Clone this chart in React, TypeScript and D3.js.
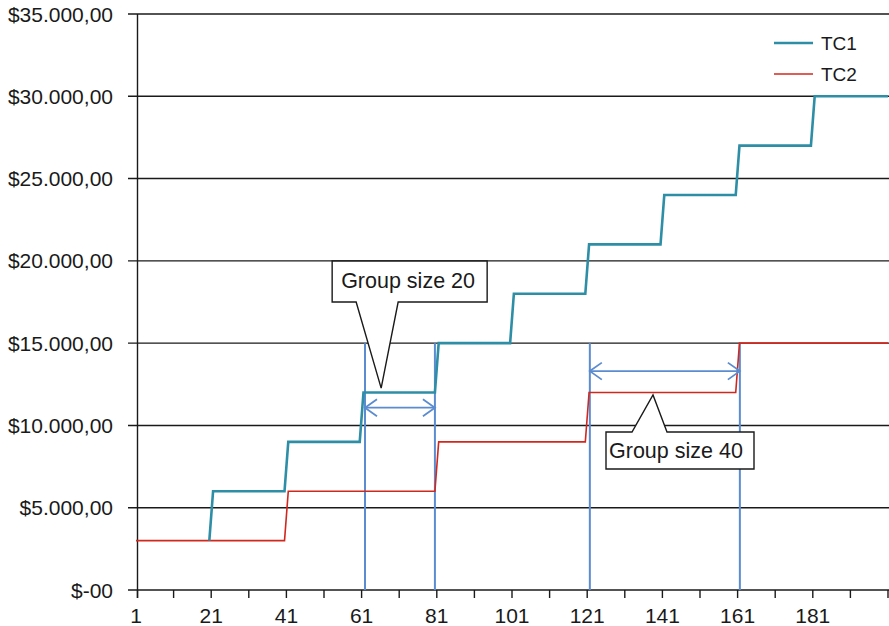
import React from "react";
import * as d3 from "d3";

const W = 889;
const H = 626;

const yTicks = [0, 5000, 10000, 15000, 20000, 25000, 30000, 35000];
const yTickLabels = ["$-00", "$5.000,00", "$10.000,00", "$15.000,00", "$20.000,00", "$25.000,00", "$30.000,00", "$35.000,00"];
const xMinorTicks = d3.range(1, 202, 10);
const xLabelTicks = [1, 21, 41, 61, 81, 101, 121, 141, 161, 181];

// step series: level changes at the given x positions
const tc1Breaks = [21, 41, 61, 81, 101, 121, 141, 161, 181];
const tc1Levels = [3000, 6000, 9000, 12000, 15000, 18000, 21000, 24000, 27000, 30000];
const tc2Breaks = [41, 81, 121, 161];
const tc2Levels = [3000, 6000, 9000, 12000, 15000];

const guideLines = [61.9, 80.5, 121.7, 161.6];
const guideTop = 15000;
const arrows = [
  { x0: 61.9, x1: 80.5, y: 11077 },
  { x0: 121.7, x1: 161.6, y: 13300 },
];
const callouts = [
  { text: "Group size 20", x: 66.2, y: 12270, box: [-49, 106, -127, -86], base: [-25, 17], tx: -40, ty: -100 },
  { text: "Group size 40", x: 138.5, y: 11850, box: [-47, 101, 37, 74], base: [-21, 14], tx: -44, ty: 63 },
];

const FONT = "'Liberation Sans', Arial, Helvetica, sans-serif";

function stepPoints(breaks: number[], levels: number[], startAtFirstBreak: boolean): [number, number][] {
  const pts: [number, number][] = startAtFirstBreak ? [] : [[1, levels[0]]];
  breaks.forEach((b, i) => {
    pts.push([b - 0.5, levels[i]]);
    pts.push([b + 0.5, levels[i + 1]]);
  });
  pts.push([201, levels[levels.length - 1]]);
  return pts;
}

export default function App() {
  const x = d3.scaleLinear().domain([1, 201]).range([136, 888]);
  const y = d3.scaleLinear().domain([0, 35000]).range([590, 14]);
  const line = d3.line<[number, number]>().x((d) => x(d[0])).y((d) => y(d[1]));
  const x0 = x(1) + 1.5;

  const arrowHead = (tx: number, ty: number, dir: number) =>
    `M${tx + dir * 12},${ty - 8.5}L${tx},${ty}L${tx + dir * 12},${ty + 8.5}`;

  return (
    <svg width={W} height={H} style={{ position: "absolute", left: 0, top: 0, background: "#fff" }} fontFamily={FONT}>
      <rect width={W} height={H} fill="#fff" />
      {/* gridlines */}
      {yTicks.map((t, i) => (
        <g key={t}>
          <line x1={x0 - 9.5} x2={W} y1={y(t)} y2={y(t)} stroke="#1a1a1a" strokeWidth={1.4} />
          <text x={113} y={y(t) + 7.5} textAnchor="end" fontSize={21} fill="#1a1a1a">
            {yTickLabels[i]}
          </text>
        </g>
      ))}
      {/* y axis */}
      <line x1={x0} x2={x0} y1={y(35000)} y2={y(0) + 8} stroke="#1a1a1a" strokeWidth={1.4} />
      {/* x ticks */}
      {xMinorTicks.map((t) => (
        <line key={t} x1={t === 1 ? x0 : x(t)} x2={t === 1 ? x0 : x(t)} y1={y(0)} y2={y(0) + 8} stroke="#1a1a1a" strokeWidth={1.4} />
      ))}
      {xLabelTicks.map((t) => (
        <text key={t} x={x(t)} y={623} textAnchor="middle" fontSize={21} fill="#1a1a1a">
          {t}
        </text>
      ))}
      {/* guide lines */}
      {guideLines.map((g) => (
        <line key={g} x1={x(g)} x2={x(g)} y1={y(guideTop)} y2={y(0)} stroke="#5b8cd0" strokeWidth={2} />
      ))}
      {/* series */}
      <path d={line(stepPoints(tc2Breaks, tc2Levels, false)) || ""} fill="none" stroke="#d0281e" strokeWidth={1.6} />
      <path d={line(stepPoints(tc1Breaks, tc1Levels, true)) || ""} fill="none" stroke="#2e8ea6" strokeWidth={2.6} />
      {/* arrows */}
      {arrows.map((a, i) => {
        const ax0 = x(a.x0), ax1 = x(a.x1), ay = y(a.y);
        return (
          <g key={i} stroke="#5b8cd0" strokeWidth={1.8} fill="none">
            <line x1={ax0} x2={ax1} y1={ay} y2={ay} />
            <path d={arrowHead(ax0, ay, 1)} />
            <path d={arrowHead(ax1, ay, -1)} />
          </g>
        );
      })}
      {/* callouts */}
      {callouts.map((c, i) => {
        const tx = x(c.x), ty = y(c.y);
        const [l, r, t, b] = c.box;
        const [b0, b1] = c.base;
        let d: string;
        if (b < 0) {
          d = `M${tx + l},${ty + t}L${tx + r},${ty + t}L${tx + r},${ty + b}L${tx + b1},${ty + b}L${tx},${ty}L${tx + b0},${ty + b}L${tx + l},${ty + b}Z`;
        } else {
          d = `M${tx + l},${ty + t}L${tx + b0},${ty + t}L${tx},${ty}L${tx + b1},${ty + t}L${tx + r},${ty + t}L${tx + r},${ty + b}L${tx + l},${ty + b}Z`;
        }
        return (
          <g key={i}>
            <path d={d} fill="#fff" stroke="#1a1a1a" strokeWidth={1.4} />
            <text x={tx + c.tx} y={ty + c.ty} fontSize={21.5} fill="#1a1a1a">
              {c.text}
            </text>
          </g>
        );
      })}
      {/* legend */}
      <line x1={774} x2={813} y1={43} y2={43} stroke="#2e8ea6" strokeWidth={2.6} />
      <text x={821} y={50} fontSize={19} fill="#1a1a1a">TC1</text>
      <line x1={774} x2={813} y1={74} y2={74} stroke="#d0281e" strokeWidth={1.6} />
      <text x={821} y={81} fontSize={19} fill="#1a1a1a">TC2</text>
    </svg>
  );
}
